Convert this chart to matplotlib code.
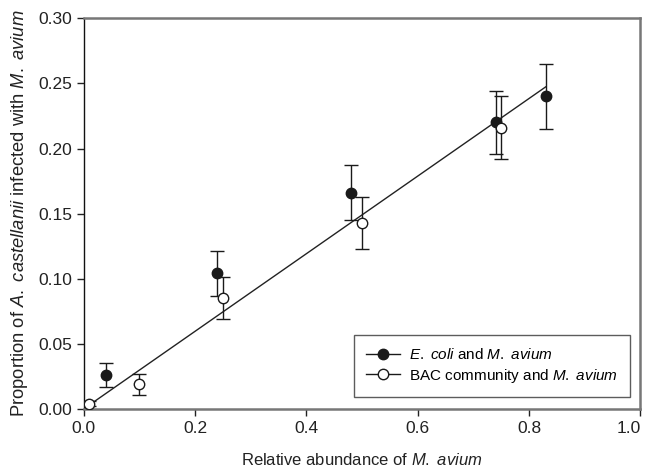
import matplotlib
matplotlib.use("Agg")
import matplotlib.pyplot as plt
import matplotlib.transforms as mtransforms
import numpy as np

plt.rcParams['font.family'] = ['Liberation Sans', 'DejaVu Sans']
plt.rcParams['mathtext.fontset'] = 'custom'
plt.rcParams['mathtext.rm'] = 'Liberation Sans'
plt.rcParams['mathtext.it'] = 'Liberation Sans:italic'

# E. coli and M. avium (filled)
ecoli_x = [0.04, 0.24, 0.48, 0.74, 0.83]
ecoli_y = [0.026, 0.104, 0.166, 0.220, 0.240]
ecoli_err = [0.009, 0.017, 0.021, 0.024, 0.025]

# BAC community and M. avium (open)
bac_x = [0.01, 0.10, 0.25, 0.50, 0.75]
bac_y = [0.004, 0.019, 0.085, 0.143, 0.216]
bac_err = [0.002, 0.008, 0.016, 0.020, 0.024]

# regression line
reg_slope = 0.298
reg_intercept = 0.0

xticks = [0.0, 0.2, 0.4, 0.6, 0.8, 1.0]
yticks = [0.00, 0.05, 0.10, 0.15, 0.20, 0.25, 0.30]

fig = plt.figure(figsize=(6.5, 4.71), dpi=100)
ax = fig.add_axes([0.129, 0.132, 0.856, 0.829])

xl = np.array([0.0, max(ecoli_x)])
ax.plot(xl, reg_intercept + reg_slope * xl, color='#222222', lw=1.0, zorder=2)

ax.errorbar(ecoli_x, ecoli_y, yerr=ecoli_err, fmt='o', color='#1a1a1a',
            mfc='#1a1a1a', mec='#1a1a1a', ms=7.5, ecolor='#1a1a1a',
            elinewidth=1.0, capsize=5, capthick=1.0, zorder=3)
ax.errorbar(bac_x, bac_y, yerr=bac_err, fmt='o', color='#1a1a1a',
            mfc='white', mec='#1a1a1a', ms=7.5, ecolor='#1a1a1a',
            elinewidth=1.0, capsize=5, capthick=1.0, zorder=4)

# legend handles
h1, = ax.plot([], [], '-o', color='#1a1a1a', mfc='#1a1a1a', ms=7.5, lw=1.0)
h2, = ax.plot([], [], '-o', color='#1a1a1a', mfc='white', ms=7.5, lw=1.0)
leg = ax.legend([h1, h2],
                [r'$\mathit{E.\ coli}$ and $\mathit{M.\ avium}$',
                 r'BAC community and $\mathit{M.\ avium}$'],
                loc='lower right', bbox_to_anchor=(0.982, 0.031), borderaxespad=0,
                fontsize=11, frameon=True, fancybox=False, handlelength=2.2,
                borderpad=0.8, labelspacing=0.3, handletextpad=0.6)
leg.get_frame().set_edgecolor('#333333')
leg.get_frame().set_linewidth(1.0)

ax.set_xlim(0, 1.0)
ax.set_ylim(0, 0.30)
ax.set_xticks(xticks)
ax.set_yticks(yticks)
ax.set_xticklabels([f'{t:.1f}' for t in xticks])
ax.set_yticklabels([f'{t:.2f}' for t in yticks])
ax.tick_params(direction='out', length=5, width=1.0, labelsize=12.5, colors='#222222')

# keep the last x tick label inside the figure
last = ax.get_xticklabels()[-1]
last.set_transform(last.get_transform() +
                   mtransforms.ScaledTranslation(-0.12, 0, fig.dpi_scale_trans))

for s in ['top', 'right', 'bottom']:
    ax.spines[s].set_color('#777777')
    ax.spines[s].set_linewidth(1.8)
ax.spines['left'].set_color('#111111')
ax.spines['left'].set_linewidth(1.0)

ax.set_xlabel(r'Relative abundance of $\mathit{M.\ avium}$', fontsize=12, labelpad=12, color='#222222')
ax.set_ylabel(r'Proportion of $\mathit{A.\ castellanii}$ infected with $\mathit{M.\ avium}$',
              fontsize=13.2, labelpad=6, color='#222222')

fig.savefig('out.png', dpi=100)
